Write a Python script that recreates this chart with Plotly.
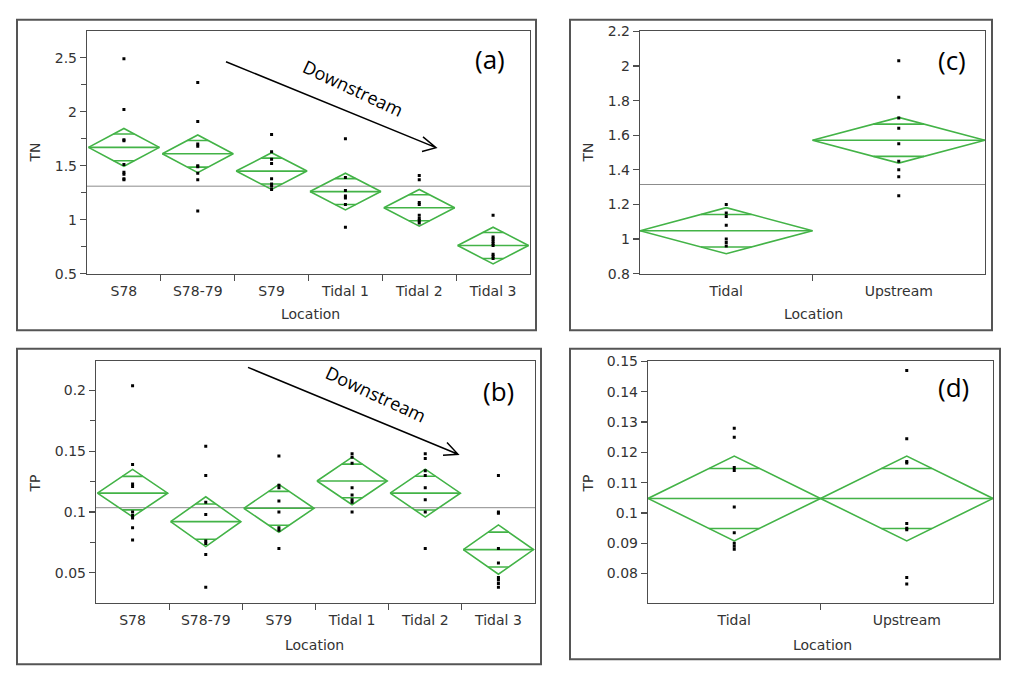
import math
import plotly.graph_objects as go

# ---------------- data ----------------
sites = ["S78", "S78-79", "S79", "Tidal 1", "Tidal 2", "Tidal 3"]
groups = ["Tidal", "Upstream"]

# (a) TN by site
tn_site_pts = [
    [2.49, 2.02, 1.74, 1.73, 1.51, 1.44, 1.42, 1.38, 1.37],
    [2.27, 1.91, 1.70, 1.68, 1.50, 1.49, 1.43, 1.37, 1.08],
    [1.79, 1.63, 1.56, 1.52, 1.38, 1.33, 1.31, 1.28],
    [1.75, 1.39, 1.27, 1.22, 1.20, 1.14, 0.93],
    [1.41, 1.37, 1.16, 1.14, 1.04, 1.01, 0.99, 0.97],
    [1.04, 0.84, 0.82, 0.80, 0.78, 0.76, 0.68, 0.66, 0.64],
]
tn_site_mean = [1.67, 1.61, 1.45, 1.26, 1.11, 0.76]
tn_site_ci = [0.175, 0.175, 0.17, 0.17, 0.17, 0.17]
tn_grand = 1.31

# (b) TP by site
tp_site_pts = [
    [0.204, 0.139, 0.123, 0.121, 0.100, 0.097, 0.095, 0.087, 0.077],
    [0.154, 0.130, 0.108, 0.098, 0.076, 0.074, 0.065, 0.038],
    [0.146, 0.122, 0.120, 0.109, 0.100, 0.087, 0.085, 0.070],
    [0.148, 0.145, 0.140, 0.120, 0.114, 0.110, 0.108, 0.100],
    [0.148, 0.144, 0.134, 0.130, 0.120, 0.110, 0.100, 0.070],
    [0.130, 0.100, 0.099, 0.070, 0.058, 0.046, 0.044, 0.041, 0.038],
]
tp_site_mean = [0.1155, 0.092, 0.103, 0.1255, 0.1155, 0.069]
tp_site_ci = [0.0195, 0.0205, 0.0197, 0.0196, 0.0197, 0.0203]
tp_grand = 0.1035

# (c) TN by group
tn_grp_pts = [
    [1.20, 1.15, 1.13, 1.08, 1.00, 0.98, 0.96],
    [2.03, 1.82, 1.70, 1.64, 1.55, 1.45, 1.40, 1.36, 1.25],
]
tn_grp_mean = [1.048, 1.571]
tn_grp_ci = [0.133, 0.132]
tn_grp_grand = 1.315

# (d) TP by group
tp_grp_pts = [
    [0.128, 0.125, 0.115, 0.114, 0.102, 0.0935, 0.090, 0.089, 0.088],
    [0.147, 0.1245, 0.117, 0.1165, 0.0965, 0.095, 0.0945, 0.0787, 0.0766],
]
tp_grp_mean = [0.1048, 0.1048]
tp_grp_ci = [0.014, 0.014]
tp_grp_grand = 0.1048

# ---------------- layout helpers ----------------
W, H = 1024, 680
GREEN = "#43b347"
AX = "#4d4d4d"
TXT = "#333333"
FONT = "DejaVu Sans"


def px(x):
    return x / W


def py(y):
    return 1 - y / H


fig = go.Figure()


def add_panel(k, cats, pts, means, cis, grand, half_w):
    xa = "x" if k == 1 else f"x{k}"
    ya = "y" if k == 1 else f"y{k}"
    n = len(cats)
    # grand mean line
    fig.add_trace(go.Scatter(x=[-0.5, n - 0.5], y=[grand, grand], mode="lines",
                             line=dict(color="#8c8c8c", width=1), xaxis=xa, yaxis=ya,
                             hoverinfo="skip", showlegend=False))
    # diamonds
    dx, dy = [], []
    r = 1 - 1 / math.sqrt(2)
    for i, (m, h) in enumerate(zip(means, cis)):
        dx += [i - half_w, i, i + half_w, i, i - half_w, None]
        dy += [m, m + h, m, m - h, m, None]
        dx += [i - half_w, i + half_w, None]
        dy += [m, m, None]
        for s in (1, -1):
            yy = m + s * h / math.sqrt(2)
            dx += [i - half_w * r, i + half_w * r, None]
            dy += [yy, yy, None]
    fig.add_trace(go.Scatter(x=dx, y=dy, mode="lines", line=dict(color=GREEN, width=1.6),
                             xaxis=xa, yaxis=ya, hoverinfo="skip", showlegend=False))
    # points
    xs, ys = [], []
    for i, vals in enumerate(pts):
        xs += [i] * len(vals)
        ys += vals
    fig.add_trace(go.Scatter(x=xs, y=ys, mode="markers",
                             marker=dict(color="black", size=3, symbol="square"),
                             xaxis=xa, yaxis=ya, showlegend=False))


add_panel(1, sites, tn_site_pts, tn_site_mean, tn_site_ci, tn_grand, 0.48)
add_panel(2, sites, tp_site_pts, tp_site_mean, tp_site_ci, tp_grand, 0.48)
add_panel(3, groups, tn_grp_pts, tn_grp_mean, tn_grp_ci, tn_grp_grand, 0.5)
add_panel(4, groups, tp_grp_pts, tp_grp_mean, tp_grp_ci, tp_grp_grand, 0.5)


def xaxis_cfg(cats, dom):
    n = len(cats)
    return dict(domain=[px(dom[0]), px(dom[1])], range=[-0.5, n - 0.5],
                tickmode="array", tickvals=list(range(n)), ticktext=cats,
                ticks="", showgrid=False, zeroline=False, showline=True, mirror=True,
                linecolor=AX, linewidth=1.2, ticklabelstandoff=4,
                tickfont=dict(family=FONT, size=14, color=TXT),
                minor=dict(tickmode="array", tickvals=[i + 0.5 for i in range(n - 1)],
                           ticks="outside", ticklen=6, tickcolor=AX, tickwidth=1.2,
                           showgrid=False),
                fixedrange=True)


def yaxis_cfg(rng, dom, vals, texts, minor_vals):
    return dict(domain=[py(dom[1]), py(dom[0])], range=rng,
                tickmode="array", tickvals=vals, ticktext=texts,
                ticks="outside", ticklen=6, tickcolor=AX, tickwidth=1.2,
                showgrid=False, zeroline=False, showline=True, mirror=True,
                linecolor=AX, linewidth=1.2,
                tickfont=dict(family=FONT, size=14, color=TXT),
                minor=dict(tickmode="array", tickvals=minor_vals, ticks="outside",
                           ticklen=5, tickcolor=AX, tickwidth=1.2, showgrid=False),
                fixedrange=True)


fig.update_layout(
    width=W, height=H, autosize=False,
    margin=dict(l=0, r=0, t=0, b=0),
    paper_bgcolor="white", plot_bgcolor="white",
    xaxis=xaxis_cfg(sites, (87, 530)),
    yaxis=yaxis_cfg([0.5, 2.744], (24, 272), [0.5, 1, 1.5, 2, 2.5],
                    ["0.5", "1", "1.5", "2", "2.5"], [0.75, 1.25, 1.75, 2.25]),
    xaxis2=xaxis_cfg(sites, (96, 535)),
    yaxis2=yaxis_cfg([0.0253, 0.2239], (362, 609), [0.05, 0.1, 0.15, 0.2],
                     ["0.05", "0.1", "0.15", "0.2"], [0.075, 0.125, 0.175]),
    xaxis3=xaxis_cfg(groups, (640, 985)),
    yaxis3=yaxis_cfg([0.8, 2.2], (24, 272), [0.8, 1.0, 1.2, 1.4, 1.6, 1.8, 2.0, 2.2],
                     ["0.8", "1", "1.2", "1.4", "1.6", "1.8", "2", "2.2"], []),
    xaxis4=xaxis_cfg(groups, (648, 993)),
    yaxis4=yaxis_cfg([0.0704, 0.15], (362, 609),
                     [0.08, 0.09, 0.10, 0.11, 0.12, 0.13, 0.14, 0.15],
                     ["0.08", "0.09", "0.1", "0.11", "0.12", "0.13", "0.14", "0.15"], []),
)
for k in (2, 3, 4):
    fig.layout[f"xaxis{k}"].anchor = f"y{k}"
    fig.layout[f"yaxis{k}"].anchor = f"x{k}"

# outer panel boxes
boxes = [(17, 12, 536, 330), (17, 349, 541, 672), (570, 12, 992, 330), (570, 349, 1000, 667)]
shapes = []
for x0, y0, x1, y1 in boxes:
    shapes.append(dict(type="rect", xref="paper", yref="paper", x0=px(x0), x1=px(x1),
                       y0=py(y1), y1=py(y0), line=dict(color="#555555", width=2)))


def arrow(x0, y0, x1, y1, b1, b2):
    p = f"M{px(x0)},{py(y0)} L{px(x1)},{py(y1)} M{px(x1 + b1[0])},{py(y1 + b1[1])} L{px(x1)},{py(y1)} L{px(x1 + b2[0])},{py(y1 + b2[1])}"
    return dict(type="path", xref="paper", yref="paper", path=p,
                line=dict(color="black", width=1.5))


shapes.append(arrow(226, 55, 436, 143, (-13, -11), (-14, 4)))
shapes.append(arrow(248, 368, 458, 457, (-11, -12), (-15, 1)))
fig.update_layout(shapes=shapes)

ann = []


def text(x, y, s, size, family=FONT, angle=0, color=TXT):
    ann.append(dict(x=px(x), y=py(y), xref="paper", yref="paper", text=s, showarrow=False,
                    textangle=angle, xanchor="center", yanchor="middle",
                    font=dict(family=family, size=size, color=color)))


for lab, x, y in [("(a)", 490, 52), ("(b)", 498, 392), ("(c)", 952, 53), ("(d)", 953, 388)]:
    text(x, y, lab, 26, "Open Sans", 0, "black")
text(353, 82, "Downstream", 18, "Open Sans", 25, "black")
text(376, 395, "Downstream", 18, "Open Sans", 25, "black")
for x, y in [(310, 313), (314, 652), (813, 313), (822, 652)]:
    text(x, y, "Location", 14)
text(35, 148, "TN", 14, angle=-90)
text(35, 487, "TP", 14, angle=-90)
text(588, 148, "TN", 14, angle=-90)
text(588, 487, "TP", 14, angle=-90)
fig.update_layout(annotations=ann)

fig.write_html("out.html", config={"displayModeBar": False, "staticPlot": True},
               post_script="document.body.style.margin='0';")
